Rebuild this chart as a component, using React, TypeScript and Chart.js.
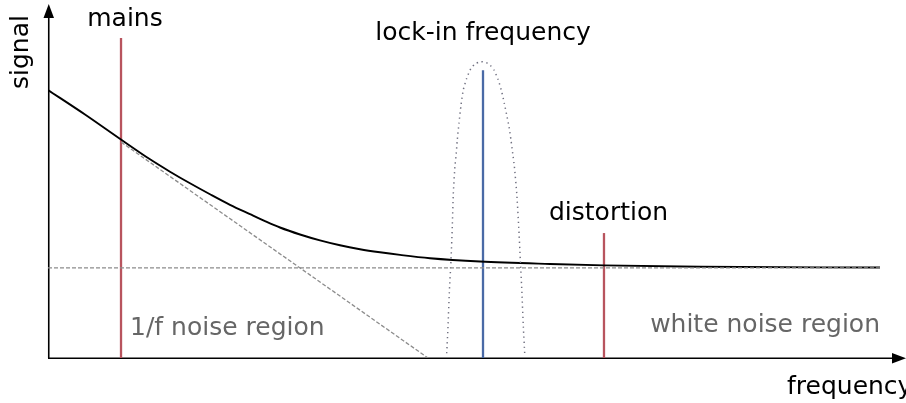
import React, { useEffect, useRef } from "react";
import { Chart, registerables } from "chart.js";

Chart.register(...registerables);

// Total response curve (arbitrary units: frequency 0..100, signal 0..100)
const curveFreq = [0, 4.31, 8.59, 11.89, 14.22, 16.55, 18.88, 21.21, 23.54, 25.29, 27.04, 29.37, 31.7, 34.03, 36.36, 38.69, 41.03, 44.52, 50.35, 58.51, 64.8, 75.99, 96.97];
const curveSignal = [74.86, 68.02, 60.89, 55.5, 52.04, 48.8, 45.73, 42.79, 40.17, 38.24, 36.45, 34.5, 32.85, 31.48, 30.39, 29.53, 28.8, 27.88, 26.96, 26.26, 25.87, 25.47, 25.27];

// 1/f asymptote
const oneOverFFreq = [8.53, 44.29];
const oneOverFSignal = [60.3, 0];

// white noise floor
const whiteFreq = [0, 96.97];
const whiteSignal = [25.2, 25.2];

// lock-in detection band
const bandFreq = [46.47, 46.62, 46.77, 46.97, 47.12, 47.24, 47.44, 47.55, 47.7, 47.9, 48.14, 48.4, 48.8, 49.3, 49.77, 50.43, 51.05, 51.52, 51.98, 52.48, 52.88, 53.18, 53.46, 53.73, 53.96, 54.16, 54.35, 54.63, 54.86, 55.05, 55.24, 55.4, 55.56];
const bandSignal = [1.31, 8.74, 18.07, 27.37, 36.68, 46.01, 53.91, 56.23, 60.89, 65.56, 70.67, 74.86, 78.13, 80.92, 82.12, 82.77, 82.54, 81.84, 80.45, 77.65, 74.39, 71.15, 67.88, 64.61, 60.89, 57.18, 53.63, 46.01, 36.68, 27.37, 18.07, 8.74, 1.31];

// spectral lines
const lineNames = ["mains", "lock-in frequency", "distortion"];
const lineFreq = [8.51, 50.7, 64.8];
const lineHeight = [89.4, 80.4, 34.9];
const lineColors = ["#b8545e", "#4a6aa6", "#b8545e"];

// text labels
const labelTexts = ["mains", "lock-in frequency", "distortion", "1/f noise region", "white noise region"];
const labelFreq = [8.97, 50.7, 65.33, 9.56, 96.97];
const labelSignal = [92.7, 88.8, 38.5, 6.42, 7.26];
const labelAlign = ["center", "center", "center", "left", "right"];
const labelColor = ["#000", "#000", "#000", "#666", "#666"];

const FONT = "25px 'DejaVu Sans'";

const pts = (xs: number[], ys: number[]) => xs.map((x, i) => ({ x, y: ys[i] }));

const decorPlugin = {
  id: "decor",
  beforeDatasetsDraw(chart: any) {
    const { ctx, chartArea } = chart;
    const { left, bottom } = chartArea;
    ctx.save();
    ctx.strokeStyle = "#000";
    ctx.fillStyle = "#000";
    ctx.lineWidth = 1.6;
    // y axis
    ctx.beginPath();
    ctx.moveTo(left + 0.75, bottom);
    ctx.lineTo(left + 0.75, 14);
    ctx.stroke();
    ctx.beginPath();
    ctx.moveTo(left + 0.75, 4);
    ctx.lineTo(left - 4.5, 18);
    ctx.lineTo(left + 6, 18);
    ctx.closePath();
    ctx.fill();
    // x axis
    const w = chart.width;
    ctx.beginPath();
    ctx.moveTo(left, bottom + 0.25);
    ctx.lineTo(w - 12, bottom + 0.25);
    ctx.stroke();
    ctx.beginPath();
    ctx.moveTo(w, bottom + 0.25);
    ctx.lineTo(w - 14, bottom - 5);
    ctx.lineTo(w - 14, bottom + 5.5);
    ctx.closePath();
    ctx.fill();
    ctx.restore();
  },
  afterDraw(chart: any) {
    const { ctx, chartArea } = chart;
    const xs = chart.scales.x;
    const ys = chart.scales.y;
    ctx.save();
    ctx.font = FONT;
    ctx.textBaseline = "alphabetic";
    labelTexts.forEach((t, i) => {
      ctx.fillStyle = labelColor[i];
      ctx.textAlign = labelAlign[i] as CanvasTextAlign;
      ctx.fillText(t, xs.getPixelForValue(labelFreq[i]), ys.getPixelForValue(labelSignal[i]));
    });
    // axis titles
    ctx.fillStyle = "#000";
    ctx.textAlign = "left";
    ctx.fillText("frequency", 787, chartArea.bottom + 36);
    ctx.translate(28, 52);
    ctx.rotate(-Math.PI / 2);
    ctx.textAlign = "center";
    ctx.fillText("signal", 0, 0);
    ctx.restore();
  },
};

export default function App() {
  const ref = useRef<HTMLCanvasElement | null>(null);
  useEffect(() => {
    if (!ref.current) return;
    const datasets: any[] = [
      {
        label: "white noise",
        data: pts(whiteFreq, whiteSignal),
        borderColor: "#8c8c8c",
        borderWidth: 1.3,
        borderDash: [4, 2],
        pointRadius: 0,
      },
      {
        label: "1/f",
        data: pts(oneOverFFreq, oneOverFSignal),
        borderColor: "#8c8c8c",
        borderWidth: 1.3,
        borderDash: [4, 2],
        pointRadius: 0,
      },
      {
        label: "band",
        data: pts(bandFreq, bandSignal),
        borderColor: "#707080",
        borderWidth: 1.5,
        borderDash: [1.3, 3.7],
        pointRadius: 0,
        tension: 0.2,
      },
      {
        label: "total",
        data: pts(curveFreq, curveSignal),
        borderColor: "#000",
        borderWidth: 1.9,
        pointRadius: 0,
        cubicInterpolationMode: "monotone",
      },
      ...lineNames.map((n, i) => ({
        label: n,
        data: [
          { x: lineFreq[i], y: 0 },
          { x: lineFreq[i], y: lineHeight[i] },
        ],
        borderColor: lineColors[i],
        borderWidth: 2.3,
        pointRadius: 0,
      })),
    ];
    const chart = new Chart(ref.current, {
      type: "line",
      data: { datasets },
      options: {
        animation: false,
        responsive: false,
        devicePixelRatio: 1,
        layout: { padding: { left: 48, right: 0, top: 0, bottom: 45 } },
        plugins: { legend: { display: false }, tooltip: { enabled: false } },
        scales: {
          x: { type: "linear", min: 0, max: 100, display: false },
          y: { type: "linear", min: 0, max: 100, display: false },
        },
        elements: { line: { fill: false } },
      } as any,
      plugins: [decorPlugin],
    });
    return () => chart.destroy();
  }, []);
  return (
    <div style={{ position: "fixed", left: 0, top: 0, width: 906, height: 403, background: "#fff" }}>
      <canvas ref={ref} width={906} height={403} style={{ display: "block" }} />
    </div>
  );
}
